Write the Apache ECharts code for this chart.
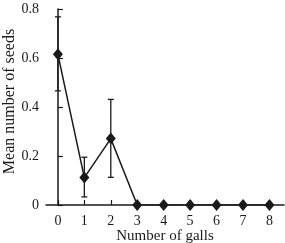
<!DOCTYPE html>
<html>
<head>
<meta charset="UTF-8">
<title>Mean number of seeds vs galls</title>
<script src="https://cdn.jsdelivr.net/npm/echarts@6/dist/echarts.min.js"></script>
<style>
  html, body { margin: 0; padding: 0; background: #fff; }
  #chart { width: 285px; height: 243px; }
</style>
</head>
<body>
<div id="chart"></div>
<script>
var galls = [0, 1, 2, 3, 4, 5, 6, 7, 8];
var meanSeeds = [0.615, 0.112, 0.271, 0, 0, 0, 0, 0, 0];
var errLow = [0.466, 0.033, 0.113, 0, 0, 0, 0, 0, 0];
var errHigh = [0.768, 0.195, 0.431, 0, 0, 0, 0, 0, 0];
var yTicks = [0, 0.2, 0.4, 0.6, 0.8];

var ink = '#1a1a1a';
var font = '"Liberation Serif", "DejaVu Serif", serif';

var points = galls.map(function (g, i) { return [g, meanSeeds[i]]; });
var bars = [];
for (var i = 0; i < galls.length; i++) {
    if (errHigh[i] > errLow[i]) bars.push([galls[i], errLow[i], errHigh[i]]);
}

var chart = echarts.init(document.getElementById('chart'));
chart.setOption({
    animation: false,
    grid: { left: 46, right: 1, top: 9, bottom: 38, containLabel: false, outerBoundsMode: 'none' },
    xAxis: {
        type: 'value',
        min: -0.45,
        max: 8.55,
        name: 'Number of galls',
        nameLocation: 'middle',
        nameGap: 24,
        nameMoveOverlap: false,
        nameTextStyle: { fontFamily: font, fontSize: 15, color: ink },
        axisLine: { lineStyle: { color: ink, width: 1.5 } },
        axisTick: { inside: true, length: 5, customValues: galls, lineStyle: { color: ink, width: 1.2 } },
        axisLabel: { customValues: galls, margin: 9, fontFamily: font, fontSize: 14, color: ink },
        splitLine: { show: false }
    },
    yAxis: {
        type: 'value',
        min: 0,
        max: 0.8,
        interval: 0.2,
        name: 'Mean number of seeds',
        nameLocation: 'middle',
        nameGap: 28,
        nameMoveOverlap: false,
        nameTextStyle: { fontFamily: font, fontSize: 16, color: ink, padding: [0, 0, 0, 11] },
        axisLine: { show: true, lineStyle: { color: ink, width: 1.5 } },
        axisTick: { show: true, inside: true, length: 5, lineStyle: { color: ink, width: 1.2 } },
        axisLabel: {
            margin: 7, fontFamily: font, fontSize: 14, color: ink,
            formatter: function (v) {
                for (var k = 0; k < yTicks.length; k++) {
                    if (Math.abs(v - yTicks[k]) < 1e-9) return String(yTicks[k]);
                }
                return '';
            }
        },
        splitLine: { show: false }
    },
    series: [{
        type: 'custom',
        data: bars,
        z: 1,
        renderItem: function (params, api) {
            var x = api.value(0);
            var lo = api.coord([x, api.value(1)]);
            var hi = api.coord([x, api.value(2)]);
            var cap = 3;
            var st = { stroke: ink, lineWidth: 1.3 };
            return {
                type: 'group',
                children: [
                    { type: 'line', shape: { x1: lo[0], y1: lo[1], x2: hi[0], y2: hi[1] }, style: st },
                    { type: 'line', shape: { x1: lo[0] - cap, y1: lo[1], x2: lo[0] + cap, y2: lo[1] }, style: st },
                    { type: 'line', shape: { x1: hi[0] - cap, y1: hi[1], x2: hi[0] + cap, y2: hi[1] }, style: st }
                ]
            };
        }
    }, {
        type: 'line',
        data: points,
        z: 3,
        symbol: 'diamond',
        symbolSize: [10, 12],
        itemStyle: { color: ink },
        lineStyle: { color: ink, width: 1.5 }
    }]
});
</script>
</body>
</html>
